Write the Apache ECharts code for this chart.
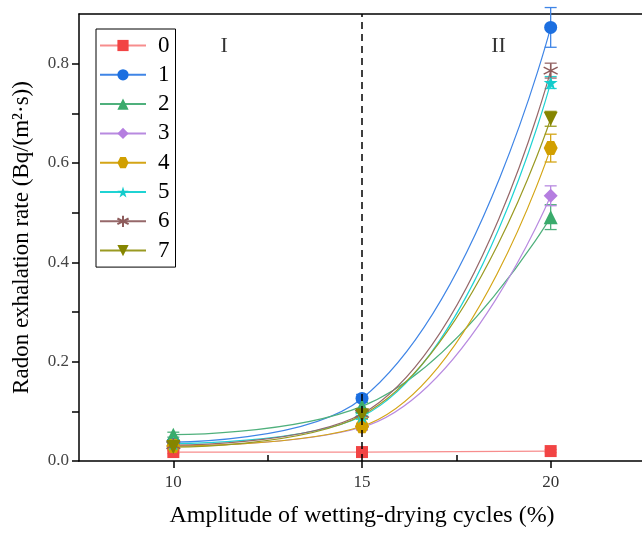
<!DOCTYPE html>
<html>
<head>
<meta charset="utf-8">
<script src="https://cdn.jsdelivr.net/npm/echarts@6/dist/echarts.min.js"></script>
<style>
  html, body { margin: 0; padding: 0; background: #fff; overflow: hidden; }
  #chart { width: 645px; height: 533px; }
</style>
</head>
<body>
<div id="chart"></div>
<script>
const xValues = [10, 15, 20];
const seriesNames = ['0', '1', '2', '3', '4', '5', '6', '7'];
const values0 = [0.018, 0.018, 0.020];
const values1 = [0.038, 0.126, 0.873];
const values2 = [0.053, 0.110, 0.491];
const values3 = [0.030, 0.068, 0.534];
const values4 = [0.030, 0.070, 0.630];
const values5 = [0.035, 0.090, 0.762];
const values6 = [0.032, 0.095, 0.786];
const values7 = [0.028, 0.092, 0.689];
const errors0 = [0.003, 0.003, 0.003];
const errors1 = [0.005, 0.008, 0.040];
const errors2 = [0.005, 0.008, 0.025];
const errors3 = [0.004, 0.006, 0.020];
const errors4 = [0.004, 0.006, 0.028];
const errors5 = [0.004, 0.006, 0.012];
const errors6 = [0.004, 0.006, 0.015];
const errors7 = [0.004, 0.006, 0.015];
const xTickValues = [10, 15, 20];
const xMinorTickValues = [12.5, 17.5];
const yTickValues = [0, 0.1, 0.2, 0.3, 0.4, 0.5, 0.6, 0.7, 0.8];
const yLabelValues = [0, 0.2, 0.4, 0.6, 0.8];
const boundaryX = 15;
const regionLabels = [[11.35, 0.836, 'I'], [18.62, 0.836, 'II']];

const allValues = [values0, values1, values2, values3, values4, values5, values6, values7];
const allErrors = [errors0, errors1, errors2, errors3, errors4, errors5, errors6, errors7];

const font = 'Liberation Serif, DejaVu Serif, serif';
const markColors = ['#f24444', '#1c6fe0', '#3aab6c', '#b57ee0', '#d19f00', '#14cccc', '#8e5c5c', '#858500'];
const lineColors = ['#f78d8d', '#3f85e6', '#4fb07c', '#b88ae0', '#d4a516', '#1fd3d3', '#96686a', '#9a9a22'];
const symbols = [
    'rect',
    'circle',
    'triangle',
    'diamond',
    'path://M-1,0 L-0.5,-0.866 L0.5,-0.866 L1,0 L0.5,0.866 L-0.5,0.866 Z',
    'path://M0,-1 L0.2245,-0.309 L0.951,-0.309 L0.363,0.118 L0.588,0.809 L0,0.382 L-0.588,0.809 L-0.363,0.118 L-0.951,-0.309 L-0.2245,-0.309 Z',
    'path://M0,-1 L0,1 M-0.866,-0.5 L0.866,0.5 M-0.866,0.5 L0.866,-0.5',
    'path://M-1,-0.9 L1,-0.9 L0,0.9 Z',
];
const symbolSizes = [12, 13, 14, 14, 14, 14, 14, 14];

const chart = echarts.init(document.getElementById('chart'), null, { renderer: 'canvas' });

const lineSeries = seriesNames.map((name, i) => ({
    name,
    type: 'line',
    data: xValues.map((x, j) => [x, allValues[i][j]]),
    smooth: i === 0 ? false : 0.45,
    symbol: symbols[i],
    symbolSize: symbolSizes[i],
    lineStyle: { color: lineColors[i], width: 1.2 },
    itemStyle: i === 6
        ? { color: markColors[i], borderColor: markColors[i], borderWidth: 1.5 }
        : { color: markColors[i] },
    z: 3,
}));

const errorSeries = seriesNames.map((name, i) => ({
    name: 'err' + name,
    type: 'custom',
    data: xValues.map((x, j) => [x, allValues[i][j], allErrors[i][j]]),
    z: 2,
    renderItem: (params, api) => {
        const x = api.value(0);
        const y = api.value(1);
        const e = api.value(2);
        const top = api.coord([x, y + e]);
        const bottom = api.coord([x, y - e]);
        const cap = 6;
        const style = { stroke: lineColors[i], lineWidth: 1.3 };
        return {
            type: 'group',
            children: [
                { type: 'line', shape: { x1: top[0], y1: top[1], x2: bottom[0], y2: bottom[1] }, style },
                { type: 'line', shape: { x1: top[0] - cap, y1: top[1], x2: top[0] + cap, y2: top[1] }, style },
                { type: 'line', shape: { x1: bottom[0] - cap, y1: bottom[1], x2: bottom[0] + cap, y2: bottom[1] }, style },
            ],
        };
    },
}));

chart.setOption({
    animation: false,
    textStyle: { fontFamily: font },
    grid: { left: 79, top: 14, right: 0, bottom: 63 },
    legend: {
        orient: 'vertical',
        left: 96,
        top: 29,
        data: seriesNames,
        padding: [5, 6, 5, 3],
        borderColor: '#000',
        borderWidth: 1,
        itemWidth: 46,
        itemHeight: 14,
        itemGap: 6.3,
        textStyle: { fontFamily: font, fontSize: 23, lineHeight: 23, color: '#000', padding: [0, 0, 0, 7] },
    },
    xAxis: [
        {
            type: 'value',
            min: 7.5,
            max: 22.5,
            name: 'Amplitude of wetting-drying cycles (%)',
            nameLocation: 'middle',
            nameGap: 43,
            nameTextStyle: { fontFamily: font, fontSize: 24, color: '#000' },
            axisLine: { lineStyle: { color: '#000', width: 1.5 } },
            axisTick: { customValues: xTickValues, length: 7, lineStyle: { color: '#000', width: 1.5 } },
            axisLabel: { customValues: xTickValues, fontFamily: font, fontSize: 17, color: '#333', margin: 13 },
            splitLine: { show: false },
        },
        {
            type: 'value',
            min: 7.5,
            max: 22.5,
            position: 'bottom',
            axisLine: { show: false },
            axisTick: { customValues: xMinorTickValues, inside: true, length: 6, lineStyle: { color: '#000', width: 1.5 } },
            axisLabel: { show: false },
            splitLine: { show: false },
        },
        {
            type: 'value',
            min: 7.5,
            max: 22.5,
            position: 'top',
            axisLine: { lineStyle: { color: '#000', width: 1.5 } },
            axisTick: { show: false },
            axisLabel: { show: false },
            splitLine: { show: false },
        },
    ],
    yAxis: {
        type: 'value',
        min: 0,
        max: 0.9,
        name: 'Radon exhalation rate (Bq/(m²·s))',
        nameLocation: 'middle',
        nameGap: 46,
        nameTextStyle: { fontFamily: font, fontSize: 23, color: '#000' },
        axisLine: { show: true, lineStyle: { color: '#000', width: 1.5 } },
        axisTick: { customValues: yTickValues, length: 7, lineStyle: { color: '#000', width: 1.5 } },
        axisLabel: {
            customValues: yLabelValues,
            fontFamily: font,
            fontSize: 17,
            color: '#444',
            margin: 10,
            formatter: (v) => v.toFixed(1),
        },
        splitLine: { show: false },
    },
    series: [
        ...errorSeries,
        ...lineSeries,
        {
            name: 'regions',
            type: 'scatter',
            data: regionLabels,
            symbolSize: 1,
            itemStyle: { color: 'rgba(0,0,0,0)' },
            label: {
                show: true,
                position: 'inside',
                formatter: (p) => p.value[2],
                fontFamily: font,
                fontSize: 22,
                color: '#000',
            },
            markLine: {
                silent: true,
                symbol: 'none',
                label: { show: false },
                lineStyle: { color: '#000', type: [7, 5], width: 1.5 },
                data: [{ xAxis: boundaryX }],
            },
            z: 1,
        },
    ],
});
</script>
</body>
</html>
